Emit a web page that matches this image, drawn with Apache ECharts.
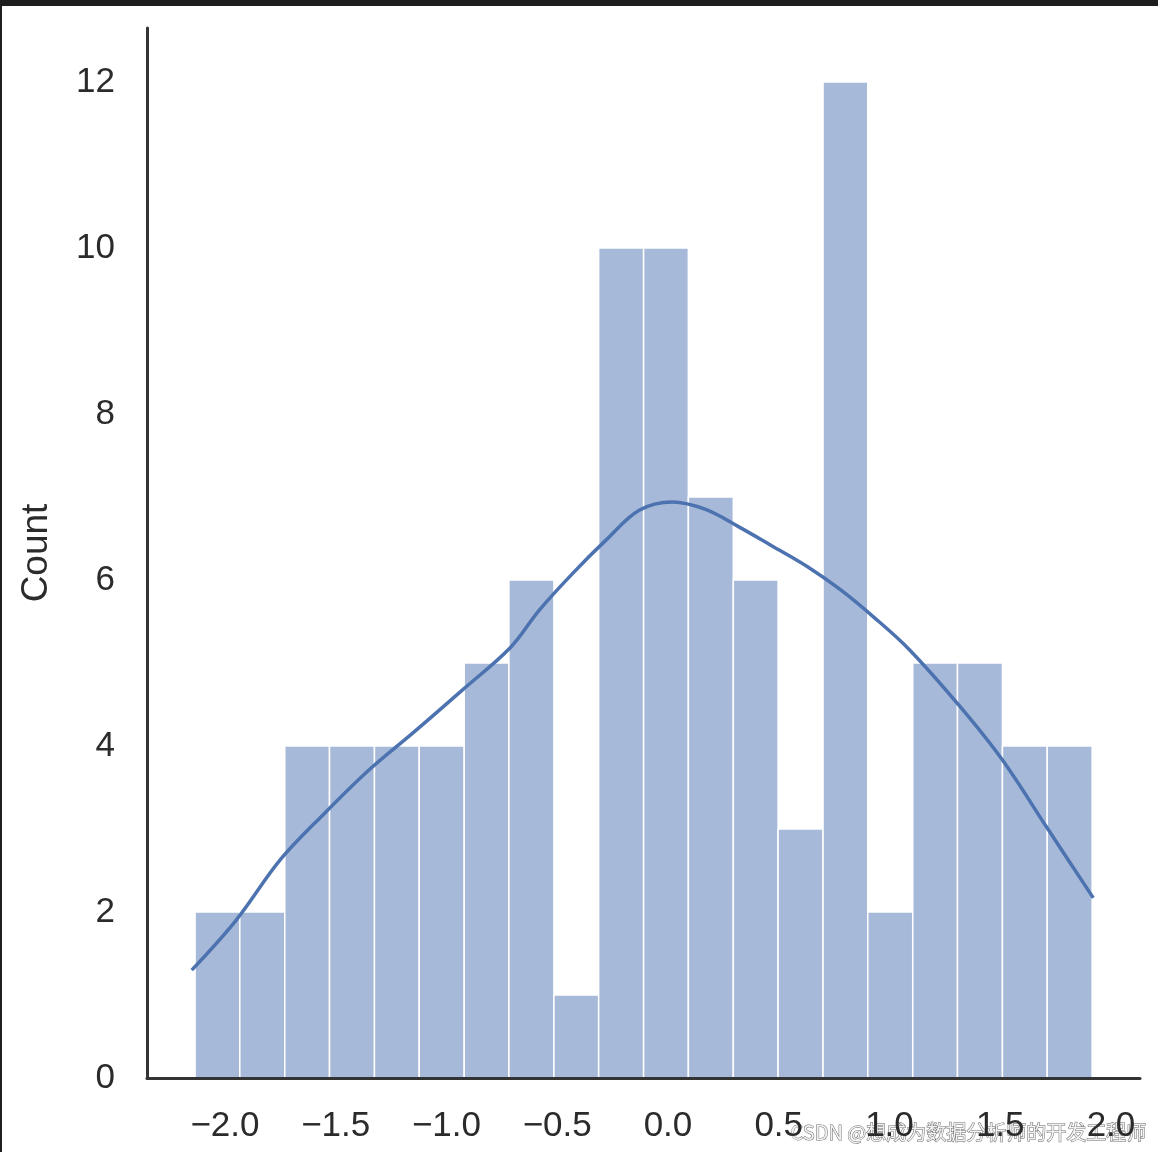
<!DOCTYPE html>
<html>
<head>
<meta charset="utf-8">
<script src="https://cdn.jsdelivr.net/npm/echarts@6/dist/echarts.min.js"></script>
<style>
  html, body { margin: 0; padding: 0; background: #fff; }
  #chart { width: 1158px; height: 1152px; }
</style>
</head>
<body>
<div id="chart"></div>
<script>
// histogram bin edges (21 edges -> 20 bins)
const binEdges = [-2.135, -1.933, -1.730, -1.528, -1.325, -1.123, -0.920, -0.718, -0.515, -0.313,
  -0.110, 0.092, 0.295, 0.497, 0.700, 0.902, 1.105, 1.307, 1.510, 1.712, 1.915];
const counts = [2, 2, 4, 4, 4, 4, 5, 6, 1, 10, 10, 7, 6, 3, 12, 2, 5, 5, 4, 4];

// kde curve
const kdeX = [-2.15, -1.95, -1.75, -1.55, -1.35, -1.15, -0.93, -0.71, -0.58, -0.43, -0.28, -0.13,
  0.02, 0.17, 0.32, 0.47, 0.63, 0.78, 0.93, 1.09, 1.32, 1.51, 1.71, 1.92];
const kdeY = [1.30, 1.90, 2.63, 3.19, 3.71, 4.16, 4.67, 5.19, 5.64, 6.08, 6.48, 6.84,
  6.94, 6.85, 6.64, 6.41, 6.16, 5.88, 5.55, 5.16, 4.47, 3.83, 3.02, 2.17];

const xTicks = [-2.0, -1.5, -1.0, -0.5, 0.0, 0.5, 1.0, 1.5, 2.0];
const yTicks = [0, 2, 4, 6, 8, 10, 12];

const barData = counts.map((c, i) => [binEdges[i], binEdges[i + 1], c]);
const lineData = kdeX.map((x, i) => [x, kdeY[i]]);

const chart = echarts.init(document.getElementById("chart"));
const textColor = "#2b2b2b";
const axisColor = "#333333";
const font = "Liberation Sans, Arial, sans-serif";

chart.setOption({
  animation: false,
  backgroundColor: "#fff",
  grid: { left: 147, right: 18, top: 28, bottom: 74 },
  xAxis: {
    type: "value",
    min: -2.352,
    max: 2.131,
    z: 10,
    splitLine: { show: false },
    axisTick: { show: false },
    axisLine: { onZero: false, lineStyle: { color: axisColor, width: 3 } },
    axisLabel: {
      customValues: xTicks,
      color: textColor,
      fontSize: 35,
      fontFamily: font,
      margin: 31,
      formatter: (v) => (v < 0 ? "\u2212" : "") + Math.abs(v).toFixed(1),
    },
  },
  yAxis: {
    type: "value",
    min: 0,
    max: 12.65,
    z: 10,
    name: "Count",
    nameLocation: "middle",
    nameGap: 92,
    nameTextStyle: { color: textColor, fontSize: 37, fontFamily: font },
    splitLine: { show: false },
    axisTick: { show: false },
    axisLine: { show: true, onZero: false, lineStyle: { color: axisColor, width: 3 } },
    axisLabel: {
      customValues: yTicks,
      color: textColor,
      fontSize: 35,
      fontFamily: font,
      margin: 32,
    },
  },
  series: [
    {
      type: "custom",
      data: barData,
      encode: { x: [0, 1], y: 2 },
      renderItem: (params, api) => {
        const p0 = api.coord([api.value(0), api.value(2)]);
        const p1 = api.coord([api.value(1), 0]);
        return {
          type: "rect",
          shape: { x: p0[0], y: p0[1], width: p1[0] - p0[0], height: p1[1] - p0[1] },
          style: { fill: "#a6b9d9", stroke: "#ffffff", lineWidth: 1.5 },
        };
      },
      z: 2,
    },
    {
      type: "line",
      data: lineData,
      smooth: 0.35,
      showSymbol: false,
      lineStyle: { color: "#4c72b0", width: 3.5 },
      z: 3,
    },
  ],
  graphic: [
    { type: "rect", left: 0, top: 0, shape: { width: 1158, height: 6 }, style: { fill: "#1e1e1e" } },
    { type: "rect", left: 0, top: 0, shape: { width: 2, height: 1152 }, style: { fill: "#1e1e1e" } },
    {
      type: "text",
      left: 790,
      top: 1122,
      style: {
        text: "CSDN @想成为数据分析师的开发工程师",
        font: '20px "Noto Sans CJK SC", sans-serif',
        fill: "#f2f2f2",
        stroke: "#6a6a6a",
        lineWidth: 1,
      },
      z: 10,
    },
  ],
});
</script>
</body>
</html>
